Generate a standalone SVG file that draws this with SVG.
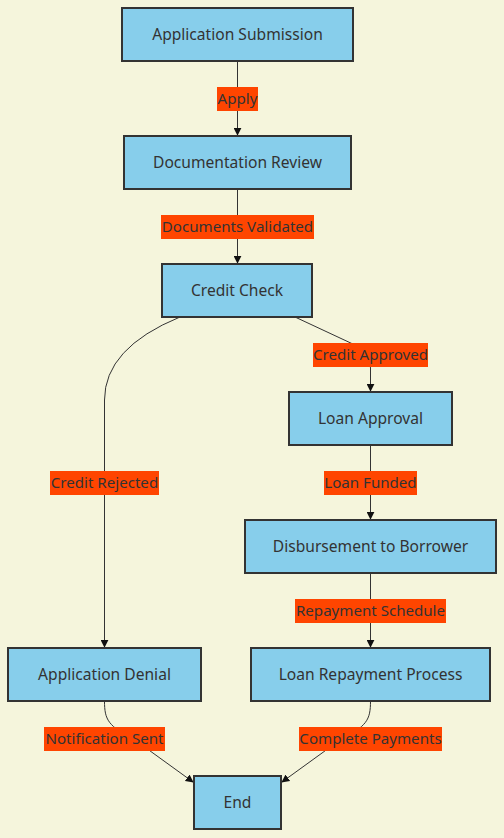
<svg xmlns="http://www.w3.org/2000/svg" width="504" height="838" viewBox="0 0 504 838">
<defs>
<style>
.node rect{fill:#87CEEB;stroke:#333;stroke-width:2}
.node text,.lbl text{font-family:"Noto Sans","Open Sans",sans-serif;font-size:15.6px;fill:#333;text-anchor:middle;dominant-baseline:central}
.lbl text{font-size:15.1px}
.lbl rect{fill:#FF4500}
.edge{fill:none;stroke:#333;stroke-width:1}
</style>
<marker id="arr" viewBox="0 0 10 10" refX="9" refY="5" markerWidth="8" markerHeight="8" orient="auto" markerUnits="userSpaceOnUse">
<path d="M0,0 L10,5 L0,10 z" fill="#111"/>
</marker>
</defs>
<rect width="504" height="838" fill="#F5F5DC"/>
<g id="connectors">
<path class="edge" d="M237.5,61 L237.5,135" marker-end="url(#arr)"/>
<path class="edge" d="M237.5,189 L237.5,263" marker-end="url(#arr)"/>
<path class="edge" d="M295,317 L355,345 Q370.5,353 370.5,368 L370.5,391" marker-end="url(#arr)"/>
<path class="edge" d="M180,317 Q104.5,348 104.5,400 L104.5,647" marker-end="url(#arr)"/>
<path class="edge" d="M370.5,445 L370.5,519" marker-end="url(#arr)"/>
<path class="edge" d="M370.5,573 L370.5,647" marker-end="url(#arr)"/>
<path class="edge" d="M104.5,701 C104.5,720 108,726 135,740 L193,782" marker-end="url(#arr)"/>
<path class="edge" d="M370.5,701 C370.5,720 367,726 340,740 L282,782" marker-end="url(#arr)"/>
</g>
<g class="lbl" id="label-apply"><rect x="217" y="87" width="41" height="24"/><text x="237.5" y="97.5">Apply</text></g>
<g class="lbl" id="label-docs"><rect x="161" y="215" width="153" height="24"/><text x="237.5" y="225.5">Documents Validated</text></g>
<g class="lbl" id="label-approved"><rect x="313" y="343" width="115" height="24"/><text x="370.5" y="353.5">Credit Approved</text></g>
<g class="lbl" id="label-rejected"><rect x="50" y="471" width="109" height="24"/><text x="104.5" y="481.5">Credit Rejected</text></g>
<g class="lbl" id="label-funded"><rect x="324" y="471" width="93" height="24"/><text x="370.5" y="481.5">Loan Funded</text></g>
<g class="lbl" id="label-schedule"><rect x="295" y="599" width="151" height="24"/><text x="370.5" y="609.5">Repayment Schedule</text></g>
<g class="lbl" id="label-notif"><rect x="44" y="727" width="121" height="24"/><text x="104.5" y="737.5">Notification Sent</text></g>
<g class="lbl" id="label-complete"><rect x="299" y="727" width="143" height="24"/><text x="370.5" y="737.5">Complete Payments</text></g>
<g class="node" id="node-submission"><rect x="122" y="8" width="231" height="53"/><text x="237.5" y="33.5">Application Submission</text></g>
<g class="node" id="node-review"><rect x="124" y="136" width="227" height="53"/><text x="237.5" y="161.5">Documentation Review</text></g>
<g class="node" id="node-credit"><rect x="162" y="264" width="150" height="53"/><text x="237" y="289.5">Credit Check</text></g>
<g class="node" id="node-approval"><rect x="289" y="392" width="163" height="53"/><text x="370.5" y="417.5">Loan Approval</text></g>
<g class="node" id="node-disbursement"><rect x="245" y="520" width="251" height="53"/><text x="370.5" y="545.5">Disbursement to Borrower</text></g>
<g class="node" id="node-repayment"><rect x="251" y="648" width="239" height="53"/><text x="370.5" y="673.5">Loan Repayment Process</text></g>
<g class="node" id="node-denial"><rect x="8" y="648" width="193" height="53"/><text x="104.5" y="673.5">Application Denial</text></g>
<g class="node" id="node-end"><rect x="194" y="776" width="87" height="53"/><text x="237.5" y="801.5">End</text></g>
</svg>
